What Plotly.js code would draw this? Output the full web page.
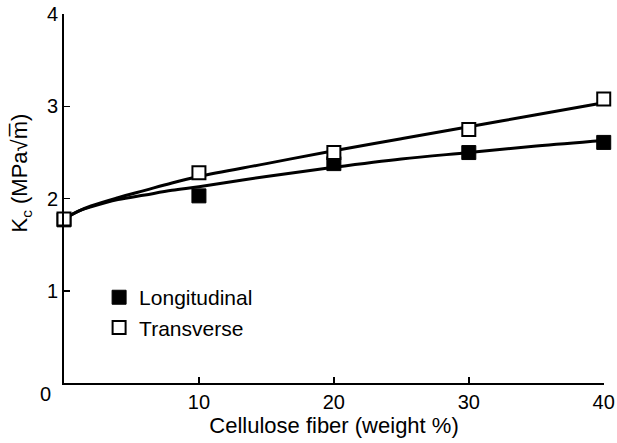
<!DOCTYPE html>
<html>
<head>
<meta charset="utf-8">
<script src="https://cdn.plot.ly/plotly-3.0.1.min.js"></script>
<style>html,body{margin:0;padding:0;background:#fff;}#chart{width:617px;height:443px;}</style>
</head>
<body>
<div id="chart"></div>
<script>
// Measured data points
const fiber = [0, 10, 20, 30, 40];
const longitudinal = [1.77, 2.03, 2.38, 2.50, 2.61];
const transverse = [1.78, 2.28, 2.50, 2.75, 3.08];

// Fitted curves
const fitX = [0, 1, 2, 4, 6, 8, 10, 15, 20, 25, 30, 35, 40];
const fitLongitudinal = [1.78, 1.86, 1.91, 1.99, 2.04, 2.09, 2.13, 2.24, 2.34, 2.43, 2.50, 2.57, 2.63];
const fitTransverse = [1.78, 1.86, 1.92, 2.01, 2.09, 2.17, 2.24, 2.38, 2.52, 2.65, 2.78, 2.91, 3.04];

const xTicks = [10, 20, 30, 40];
const yTicks = [1, 2, 3, 4];
const seriesNames = ['Longitudinal', 'Transverse'];
const xTitle = 'Cellulose fiber (weight %)';
const yTitle = 'K<sub>c</sub> (MPa\u221Am\u0305)';

const FONT = 'Liberation Sans, Arial, sans-serif';

const traces = [
  {x: fitX, y: fitLongitudinal, mode: 'lines', line: {color: '#000', width: 3, shape: 'spline'}, showlegend: false, hoverinfo: 'skip'},
  {x: fitX, y: fitTransverse, mode: 'lines', line: {color: '#000', width: 3, shape: 'spline'}, showlegend: false, hoverinfo: 'skip'},
  {x: fiber, y: longitudinal, name: seriesNames[0], mode: 'markers', cliponaxis: false,
   marker: {symbol: 'square', size: 14, color: '#000', line: {color: '#000', width: 1}}},
  {x: fiber, y: transverse, name: seriesNames[1], mode: 'markers', cliponaxis: false,
   marker: {symbol: 'square', size: 13, color: '#fff', line: {color: '#000', width: 2}}}
];

const layout = {
  width: 617, height: 443,
  margin: {l: 64, r: 13, t: 14, b: 60},
  paper_bgcolor: '#fff', plot_bgcolor: '#fff',
  font: {family: FONT, size: 20, color: '#000'},
  showlegend: true,
  legend: {x: 0.065, y: 0.287, xanchor: 'left', yanchor: 'top', font: {family: FONT, size: 21, color: '#000'},
           bgcolor: 'rgba(0,0,0,0)', tracegroupgap: 0, itemwidth: 30},
  xaxis: {
    range: [0, 40.02], tickvals: xTicks, ticktext: xTicks.map(String),
    ticks: 'inside', ticklen: 6, tickwidth: 1.5, tickcolor: '#000',
    ticklabeloverflow: 'allow',
    showline: true, linecolor: '#000', linewidth: 2, showgrid: false, zeroline: false,
    tickfont: {family: FONT, size: 20, color: '#000'},
    title: {text: xTitle, font: {family: FONT, size: 22, color: '#000'}, standoff: 2}
  },
  yaxis: {
    range: [0, 4.003], tickvals: yTicks, ticktext: yTicks.map(String),
    ticks: 'inside', ticklen: 6, tickwidth: 1.5, tickcolor: '#000',
    ticklabeloverflow: 'allow',
    showline: true, linecolor: '#000', linewidth: 2, showgrid: false, zeroline: false,
    tickfont: {family: FONT, size: 20, color: '#000'}
  },
  annotations: [
    {text: '0', xref: 'paper', yref: 'paper', x: -0.035, y: -0.03, xanchor: 'center', yanchor: 'middle',
     showarrow: false, font: {family: FONT, size: 20, color: '#000'}},
    {text: yTitle, xref: 'paper', yref: 'paper', x: -0.08, y: 0.57, xanchor: 'center', yanchor: 'middle',
     textangle: -90, showarrow: false, font: {family: FONT, size: 22, color: '#000'}}
  ]
};

Plotly.newPlot('chart', traces, layout, {staticPlot: true, displayModeBar: false});
</script>
</body>
</html>
